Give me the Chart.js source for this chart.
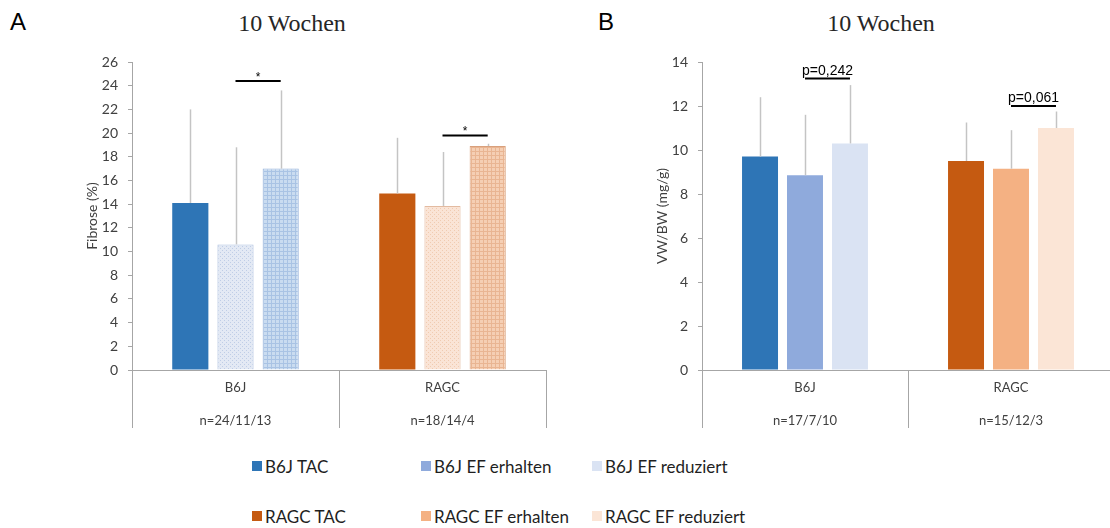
<!DOCTYPE html>
<html lang="de">
<head>
<meta charset="utf-8">
<title>Fibrose und VW/BW nach 10 Wochen</title>
<script src="https://cdn.jsdelivr.net/npm/chart.js@4.4.1/dist/chart.umd.min.js"></script>
<style>
  html, body { margin: 0; padding: 0; background: #fff; overflow: hidden; }
  body { width: 1110px; height: 528px; position: relative; font-family: Lato, "Open Sans", sans-serif; }
  .panel-letter { position: absolute; font-family: "Liberation Sans", Arial, sans-serif; font-size: 24px; line-height: 24px; color: #000; }
  .panel-title { position: absolute; font-family: "Liberation Serif", "Times New Roman", serif; font-size: 24px; line-height: 24px; color: #262626; white-space: nowrap; transform: translateX(-50%); }
  canvas { position: absolute; }
  .legend-item { position: absolute; height: 20px; display: flex; align-items: center; font-size: 17px; color: #1f1f1f; white-space: nowrap; }
  .legend-swatch { width: 10px; height: 10px; margin-right: 3px; flex: none; }
</style>
</head>
<body>
<div class="panel-letter" style="left:10px; top:10px;">A</div>
<div class="panel-title" style="left:292px; top:11px;">10 Wochen</div>
<div class="panel-letter" style="left:598px; top:10px;">B</div>
<div class="panel-title" style="left:881px; top:11px;">10 Wochen</div>

<canvas id="fibrose" width="480" height="400" style="left:80px; top:40px;"></canvas>
<canvas id="vwbw" width="464" height="400" style="left:650px; top:40px;"></canvas>
<div id="legend"></div>

<script>
// Gruppen und Untergruppen
const groups = ['B6J', 'RAGC'];
const subgroups = ['TAC', 'EF erhalten', 'EF reduziert'];

// Fibrose (%): Mittelwerte und Standardabweichungen
const fibroseN = ['n=24/11/13', 'n=18/14/4'];
const fibroseTac = [14.1, 14.9];
const fibroseErhalten = [10.6, 13.85];
const fibroseReduziert = [17.0, 18.9];
const fibroseTacSD = [7.9, 4.7];
const fibroseErhaltenSD = [8.2, 4.55];
const fibroseReduziertSD = [6.6, 0.2];
const fibroseSigLevel = [24.4, 19.8];
const fibroseSigText = ['*', '*'];
const fibroseMax = 26;

// VW/BW (mg/g): Mittelwerte und Standardabweichungen
const vwbwN = ['n=17/7/10', 'n=15/12/3'];
const vwbwTac = [9.7, 9.5];
const vwbwErhalten = [8.85, 9.15];
const vwbwReduziert = [10.3, 11.0];
const vwbwTacSD = [2.7, 1.75];
const vwbwErhaltenSD = [2.75, 1.75];
const vwbwReduziertSD = [2.65, 0.75];
const vwbwSigLevel = [13.25, 12.0];
const vwbwSigText = ['p=0,242', 'p=0,061'];
const vwbwMax = 14;

// Farben je Untergruppe (TAC, EF erhalten, EF reduziert)
const blues = ['#2e75b6', '#8faadc', '#dae3f3'];
const oranges = ['#c55a11', '#f4b183', '#fbe5d6'];

const axisGray = '#a6a6a6';
const textGray = '#404040';

Chart.defaults.font.family = 'Lato, "Open Sans", sans-serif';

function makePattern(ctx, base, ink, kind) {
  const tile = document.createElement('canvas');
  tile.width = 4; tile.height = 4;
  const t = tile.getContext('2d');
  t.fillStyle = base; t.fillRect(0, 0, 4, 4);
  t.fillStyle = ink;
  if (kind === 'dots') {
    t.fillRect(0, 0, 1, 1); t.fillRect(2, 2, 1, 1);
  } else {
    t.fillRect(0, 3, 4, 1); t.fillRect(3, 0, 1, 4);
  }
  return ctx.createPattern(tile, 'repeat');
}

// Fehlerbalken (nur nach oben) über jedem Balken
const errorBarPlugin = {
  id: 'errorBars',
  afterDatasetsDraw(chart, args, opts) {
    const { ctx, scales: { y } } = chart;
    ctx.save();
    ctx.strokeStyle = opts.color;
    ctx.lineWidth = 1.5;
    chart.data.datasets.forEach((ds, d) => {
      const meta = chart.getDatasetMeta(d);
      meta.data.forEach((bar, i) => {
        const top = y.getPixelForValue(ds.data[i] + opts.sd[d][i]);
        ctx.beginPath();
        ctx.moveTo(Math.round(bar.x) + 0.5, bar.y);
        ctx.lineTo(Math.round(bar.x) + 0.5, top);
        ctx.stroke();
      });
    });
    ctx.restore();
  }
};

// Signifikanzklammern zwischen "EF erhalten" und "EF reduziert"
const sigPlugin = {
  id: 'sigBrackets',
  afterDatasetsDraw(chart, args, opts) {
    const { ctx, scales: { y } } = chart;
    const m1 = chart.getDatasetMeta(1), m2 = chart.getDatasetMeta(2);
    ctx.save();
    opts.levels.forEach((lvl, i) => {
      const x1 = m1.data[i].x, x2 = m2.data[i].x;
      const py = y.getPixelForValue(lvl);
      ctx.strokeStyle = '#000';
      ctx.lineWidth = 2;
      ctx.beginPath();
      ctx.moveTo(x1, py);
      ctx.lineTo(x2, py);
      ctx.stroke();
      ctx.fillStyle = '#000';
      ctx.textAlign = 'center';
      ctx.textBaseline = 'alphabetic';
      ctx.font = opts.font;
      ctx.fillText(opts.texts[i], (x1 + x2) / 2, py - opts.gap);
    });
    ctx.restore();
  }
};

function buildChart(canvasId, cfg) {
  const canvas = document.getElementById(canvasId);
  const ctx = canvas.getContext('2d');
  const fills = cfg.fills(ctx);
  const datasets = subgroups.map((name, k) => ({
    label: name,
    data: cfg.values[k],
    backgroundColor: fills[k],
    borderColor: cfg.borders[k],
    borderWidth: cfg.borderWidths[k],
    categoryPercentage: 0.655,
    barPercentage: 0.8
  }));
  return new Chart(ctx, {
    type: 'bar',
    data: {
      labels: groups.map((g, i) => [g, cfg.nLabels[i]]),
      datasets
    },
    options: {
      responsive: false,
      animation: false,
      layout: { padding: cfg.padding },
      plugins: {
        legend: { display: false },
        tooltip: { enabled: false },
        errorBars: { sd: cfg.sd, color: '#c4c4c4' },
        sigBrackets: { levels: cfg.sigLevels, texts: cfg.sigTexts, font: cfg.sigFont, gap: cfg.sigGap }
      },
      scales: {
        x: {
          grid: { offset: true, drawOnChartArea: false, tickLength: 58, color: axisGray, lineWidth: 1 },
          border: { color: axisGray },
          ticks: {
            padding: -57, color: textGray, maxRotation: 0, autoSkip: false,
            font: { size: 13, lineHeight: '33px' }
          },
          afterFit(s) { s.height = 58; }
        },
        y: {
          min: 0, max: cfg.max,
          ticks: { stepSize: 2, padding: 10, color: textGray, font: { size: 14 } },
          grid: { drawOnChartArea: false, tickLength: 4, color: axisGray },
          border: { color: axisGray },
          title: {
            display: true, text: cfg.yTitle, color: textGray,
            font: { size: 14 }, padding: { top: 4, bottom: 4 }
          },
          afterFit(s) { s.width = 52; }
        }
      }
    },
    plugins: [errorBarPlugin, sigPlugin]
  });
}

buildChart('fibrose', {
  values: [fibroseTac, fibroseErhalten, fibroseReduziert],
  sd: [fibroseTacSD, fibroseErhaltenSD, fibroseReduziertSD],
  nLabels: fibroseN,
  max: fibroseMax,
  yTitle: 'Fibrose (%)',
  sigLevels: fibroseSigLevel,
  sigTexts: fibroseSigText,
  sigFont: '12px "Liberation Sans", Arial, sans-serif',
  sigGap: 0,
  padding: { top: 22, right: 14, bottom: 12, left: 0 },
  fills: (ctx) => [
    [blues[0], oranges[0]],
    [makePattern(ctx, '#e3e9f4', '#bfcde6', 'dots'), makePattern(ctx, '#fae4d6', '#f0cbb1', 'dots')],
    [makePattern(ctx, '#cadcf0', '#a9c3e4', 'grid'), makePattern(ctx, '#f5cfb4', '#e9b592', 'grid')]
  ],
  borders: [
    [blues[0], oranges[0]],
    ['#adbfdf', '#e3bba1'],
    ['#98b4db', '#d9a07c']
  ],
  borderWidths: [0, 1, 1]
});

buildChart('vwbw', {
  values: [vwbwTac, vwbwErhalten, vwbwReduziert],
  sd: [vwbwTacSD, vwbwErhaltenSD, vwbwReduziertSD],
  nLabels: vwbwN,
  max: vwbwMax,
  yTitle: 'VW/BW (mg/g)',
  sigLevels: vwbwSigLevel,
  sigTexts: vwbwSigText,
  sigFont: '14px "Liberation Sans", Arial, sans-serif',
  sigGap: 4,
  padding: { top: 22, right: 0, bottom: 12, left: 0 },
  fills: () => [
    [blues[0], oranges[0]],
    [blues[1], oranges[1]],
    [blues[2], oranges[2]]
  ],
  borders: [[blues[0], oranges[0]], [blues[1], oranges[1]], [blues[2], oranges[2]]],
  borderWidths: [0, 0, 0]
});

// Gemeinsame Legende: erste Zeile B6J, zweite Zeile RAGC
const legend = document.getElementById('legend');
const legendCols = [252, 421, 592];
const legendRows = [466, 516];
groups.forEach((g, r) => {
  const palette = r === 0 ? blues : oranges;
  subgroups.forEach((s, c) => {
    const item = document.createElement('div');
    item.className = 'legend-item';
    item.style.left = legendCols[c] + 'px';
    item.style.top = (legendRows[r] - 10) + 'px';
    const sw = document.createElement('span');
    sw.className = 'legend-swatch';
    sw.style.background = palette[c];
    const tx = document.createElement('span');
    tx.textContent = g + ' ' + s;
    item.appendChild(sw);
    item.appendChild(tx);
    legend.appendChild(item);
  });
});
</script>
</body>
</html>
